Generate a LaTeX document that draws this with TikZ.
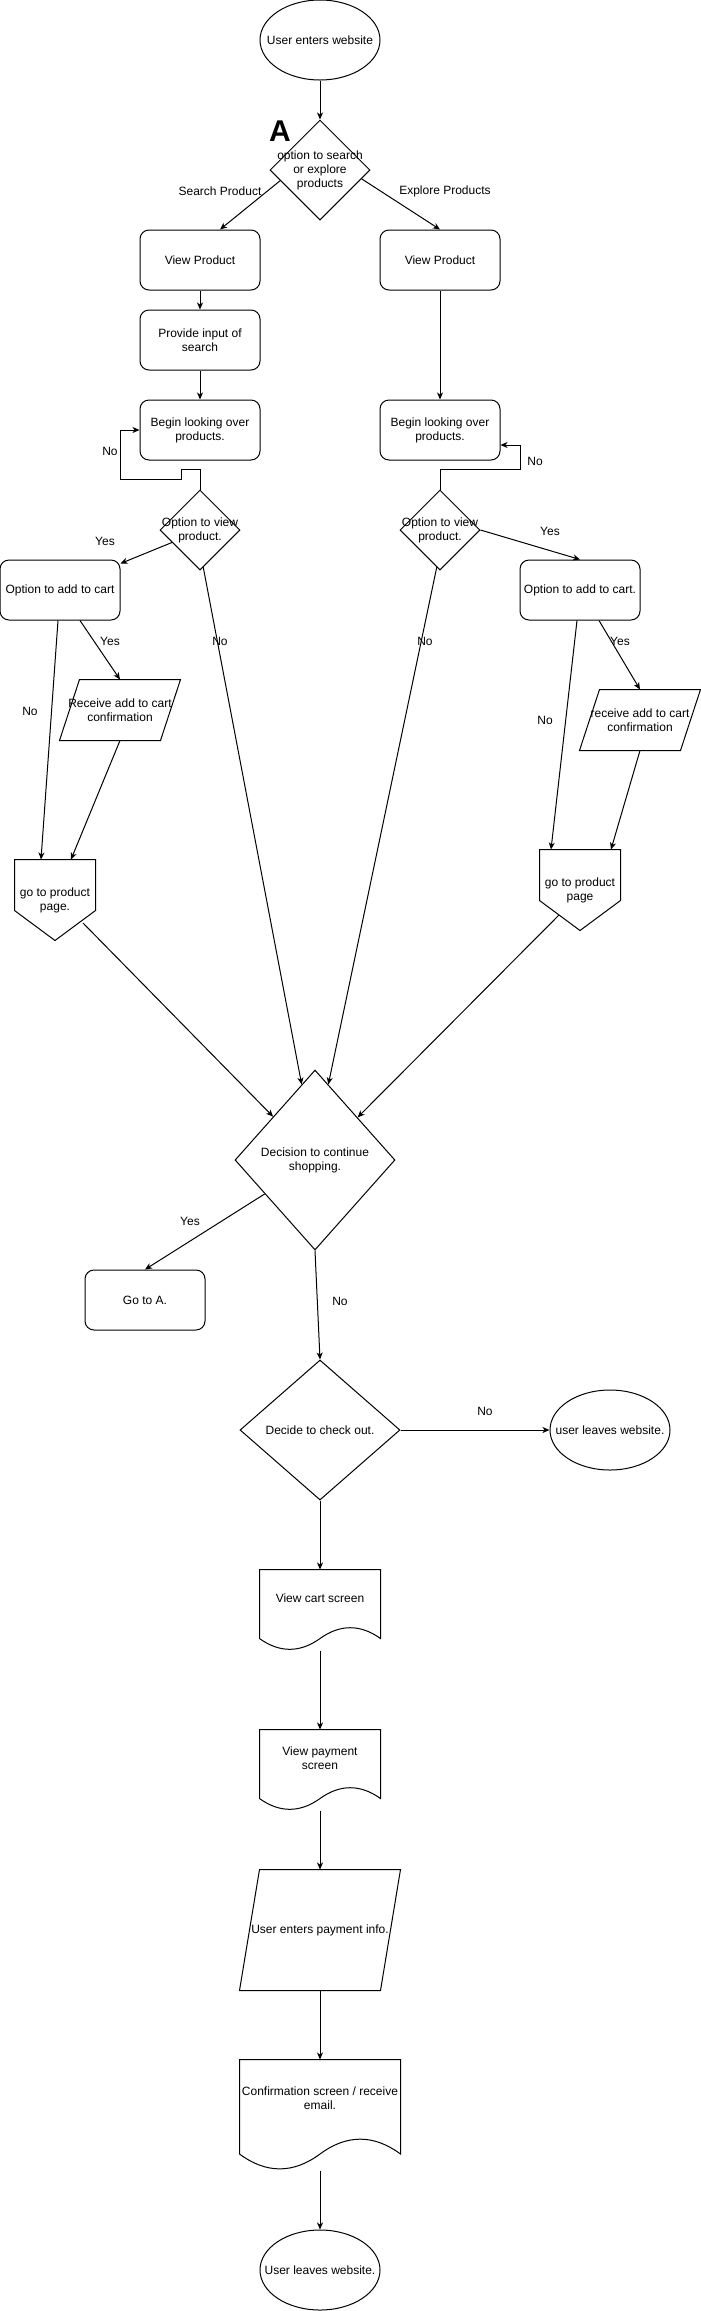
\documentclass[tikz,border=0pt]{standalone}
\usepackage{fontspec}
\setmainfont{Liberation Sans}
\usetikzlibrary{shapes.geometric,arrows.meta}

\begin{document}
\begin{tikzpicture}[x=1pt,y=-1pt,line width=1pt,>={Stealth[length=7pt,width=6pt,inset=2pt]},
  font=\fontsize{12pt}{14pt}\selectfont,
  terminal/.style={ellipse,draw,minimum width=120pt,minimum height=80pt,inner sep=0pt},
  procbox/.style={draw,rounded corners=9pt,minimum width=120pt,minimum height=60pt,inner sep=0pt,align=center},
  choicebox/.style={diamond,draw,inner sep=0pt},
  iobox/.style={minimum width=120pt,minimum height=60pt,inner sep=0pt,align=center},
  offpage/.style={minimum width=80pt,minimum height=80pt,inner sep=0pt,align=center},
  docbox/.style={minimum width=120pt,minimum height=80pt,inner sep=0pt}]
\useasboundingbox (0,0) rectangle (701,2311);
% top part
\node[terminal,label=center:User enters website] (start) at (320,40) {};
\node[choicebox,minimum width=100pt,minimum height=100pt,label={[align=center]center:option to search\\or explore\\products}] (opt) at (320,170) {};
\node[font=\fontsize{30pt}{30pt}\selectfont\bfseries] (markA) at (280,131) {A};
\node[procbox] (viewL) at (200,260) {View Product};
\node[procbox] (viewR) at (440,260) {View Product};
\node[procbox] (prov) at (200,340) {Provide input of\\search};
\node[procbox] (begL) at (200,430) {Begin looking over\\products.};
\node[procbox] (begR) at (440,430) {Begin looking over\\products.};
\node[choicebox,minimum width=80pt,minimum height=80pt,label={[align=center]center:Option to view\\product.}] (vdL) at (200,530) {};
\node[choicebox,minimum width=80pt,minimum height=80pt,label={[align=center]center:Option to view\\product.}] (vdR) at (440,530) {};
\node[procbox] (addL) at (60,590) {Option to add to cart};
\node[procbox] (addR) at (580,590) {Option to add to cart.};
\node[iobox] (recvL) at (120,710) {Receive add to cart\\confirmation};
\node[iobox] (recvR) at (640,720) {receive add to cart\\confirmation};
\node[offpage] (gotoL) at (55,900) {go to product\\page.};
\node[offpage] (gotoR) at (580,890) {go to product\\page};
% lower part
\node[choicebox,minimum width=160pt,minimum height=180pt,label={[align=center]center:Decision to continue\\shopping.}] (dec) at (315,1160) {};
\node[procbox] (gotoA) at (145,1300) {Go to A.};
\node[choicebox,minimum width=160pt,minimum height=140pt,label=center:Decide to check out.] (chk) at (320,1430) {};
\node[terminal,label=center:user leaves website.] (leaveR) at (610,1430) {};
\node[docbox,label={[yshift=12pt]center:View cart screen}] (cart) at (320,1610) {};
\node[docbox,label={[yshift=12pt,align=center]center:View payment\\screen}] (pay) at (320,1770) {};
\node[iobox,minimum width=160pt,minimum height=120pt] (info) at (320,1930) {User enters payment info.};
\node[docbox,minimum width=160pt,minimum height=110pt,label={[yshift=16.5pt,align=center]center:Confirmation screen / receive\\email.}] (conf) at (320,2115) {};
\node[terminal,label=center:User leaves website.] (leaveE) at (320,2270) {};
% parallelograms and page connectors
\draw ([xshift=20pt]recvL.north west) -- (recvL.north east) -- ([xshift=-20pt]recvL.south east) -- (recvL.south west) -- cycle;
\draw ([xshift=20pt]recvR.north west) -- (recvR.north east) -- ([xshift=-20pt]recvR.south east) -- (recvR.south west) -- cycle;
\draw ([xshift=20pt]info.north west) -- (info.north east) -- ([xshift=-20pt]info.south east) -- (info.south west) -- cycle;
\draw (gotoL.north west) -- (gotoL.north east) -- ([yshift=30pt]gotoL.south east) -- (gotoL.south) -- ([yshift=30pt]gotoL.south west) -- cycle;
\draw (gotoR.north west) -- (gotoR.north east) -- ([yshift=30pt]gotoR.south east) -- (gotoR.south) -- ([yshift=30pt]gotoR.south west) -- cycle;
% document outlines
\draw (cart.north west) -- (cart.north east) -- ([yshift=12pt]cart.south east)
  .. controls ([shift={(-20pt,26.4pt)}]cart.south east) and ([shift={(20pt,26.4pt)}]cart.south) .. ([yshift=12pt]cart.south)
  .. controls ([shift={(-20pt,-2.4pt)}]cart.south) and ([shift={(20pt,-2.4pt)}]cart.south west) .. ([yshift=12pt]cart.south west) -- cycle;
\draw (pay.north west) -- (pay.north east) -- ([yshift=12pt]pay.south east)
  .. controls ([shift={(-20pt,26.4pt)}]pay.south east) and ([shift={(20pt,26.4pt)}]pay.south) .. ([yshift=12pt]pay.south)
  .. controls ([shift={(-20pt,-2.4pt)}]pay.south) and ([shift={(20pt,-2.4pt)}]pay.south west) .. ([yshift=12pt]pay.south west) -- cycle;
\draw (conf.north west) -- (conf.north east) -- ([yshift=16.5pt]conf.south east)
  .. controls ([shift={(-26.7pt,36.3pt)}]conf.south east) and ([shift={(26.7pt,36.3pt)}]conf.south) .. ([yshift=16.5pt]conf.south)
  .. controls ([shift={(-26.7pt,-3.3pt)}]conf.south) and ([shift={(26.7pt,-3.3pt)}]conf.south west) .. ([yshift=16.5pt]conf.south west) -- cycle;
% connectors
\draw[->] (start) -- (opt);
\draw[->] (opt.195) -- ([xshift=20pt]viewL.north);
\draw[->] (opt.-12) -- (viewR.north);
\draw[->] (viewL) -- (prov);
\draw[->] (prov) -- (begL);
\draw[->] (viewR) -- (begR);
\draw[->] (vdL.north) -- ++(0,-20) -- ++(-19,0) -- ++(0,10) -- ++(-61,0) |- (begL.west);
\draw[->] (vdR.north) -- ++(0,-20) -- ++(80,0) |- ([yshift=-15pt]begR.east);
\draw[->] (vdL.204) -- ([yshift=-4pt]addL.north east);
\draw[->] (vdR.east) -- (addR.north);
\draw[->] (vdL.-85) -- (dec.100);
\draw[->] (vdR.-95) -- (dec.80);
\draw[->] ([xshift=20pt]addL.south) -- (recvL.north);
\draw[->] ([xshift=-2pt]addL.south) -- ([xshift=-14pt]gotoL.north);
\draw[->] (recvL.south) -- ([xshift=16pt]gotoL.north);
\draw[->] ([xshift=19pt]addR.south) -- (recvR.north);
\draw[->] ([xshift=-3pt]addR.south) -- ([xshift=-29pt]gotoR.north);
\draw[->] (recvR.south) -- ([xshift=31pt]gotoR.north);
\draw[->] ([shift={(28pt,-23pt)}]gotoL.center) -- (dec.134);
\draw[->] ([shift={(-21pt,-25pt)}]gotoR.center) -- (dec.45);
\draw[->] (dec.214) -- (gotoA.north);
\draw[->] (dec.south) -- (chk.north);
\draw[->] (chk) -- (leaveR);
\draw[->] (chk) -- (cart);
\draw[->] (cart) -- (pay);
\draw[->] (pay) -- (info);
\draw[->] (info) -- (conf);
\draw[->] (conf) -- (leaveE);
% edge labels
\node (lsearch) at (220,191) {Search Product};
\node (lexplore) at (445,191) {Explore Products};
\node (lnoloopL) at (110,451) {No};
\node (lnoloopR) at (535,461) {No};
\node (lyesvdL) at (105,541) {Yes};
\node (lyesvdR) at (550,531) {Yes};
\node (lnovdL) at (220,641) {No};
\node (lnovdR) at (425,641) {No};
\node (lyesaddL) at (110,641) {Yes};
\node (lyesaddR) at (620,641) {Yes};
\node (lnoaddL) at (30,711) {No};
\node (lnoaddR) at (545,720) {No};
\node (lyesdec) at (190,1221) {Yes};
\node (lnodec) at (340,1301) {No};
\node (lnochk) at (485,1411) {No};
\end{tikzpicture}
\end{document}
